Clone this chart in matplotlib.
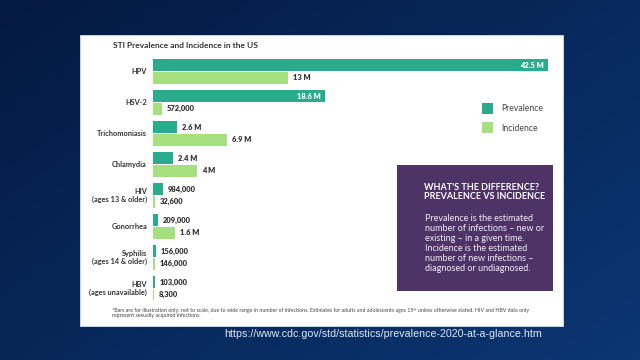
import numpy as np
import matplotlib
matplotlib.use("Agg")
import matplotlib.pyplot as plt
from matplotlib.patches import Rectangle
from matplotlib.colors import LinearSegmentedColormap

# ---- data ----
categories = ["HPV", "HSV-2", "Trichomoniasis", "Chlamydia",
              "HIV\n(ages 13 & older)", "Gonorrhea",
              "Syphilis\n(ages 14 & older)", "HBV\n(ages unavailable)"]
prev_labels = ["42.5 M", "18.6 M", "2.6 M", "2.4 M", "984,000", "209,000", "156,000", "103,000"]
inc_labels = ["13 M", "572,000", "6.9 M", "4 M", "32,600", "1.6 M", "146,000", "8,300"]
# illustrative bar lengths (bars not to scale in the original)
prev_len = [395, 172, 24, 20, 10, 5, 3, 2]
inc_len = [135, 9, 74, 44, 2, 22, 2, 1]

W, H = 640, 360
fig = plt.figure(figsize=(6.4, 3.6), dpi=100)

def fx(px):
    return px / W

def fy(py):
    return 1 - py / H

# background gradient
bg = fig.add_axes([0, 0, 1, 1])
bg.set_axis_off()
yy, xx = np.mgrid[0:1:200j, 0:1:360j]
grad = 0.55 * xx + 0.45 * yy
cmap = LinearSegmentedColormap.from_list("bgc", ["#041a42", "#0b3673"])
bg.imshow(grad, cmap=cmap, aspect="auto", extent=[0, 1, 0, 1], origin="upper")
bg.set_xlim(0, 1)
bg.set_ylim(0, 1)

# white panel
bg.add_patch(Rectangle((fx(80), fy(326)), fx(563) - fx(80), fy(35) - fy(326),
                       facecolor="white", edgecolor="#cfe0ee", linewidth=0.6))

# purple box
bg.add_patch(Rectangle((fx(397), fy(291)), fx(553) - fx(397), fy(165) - fy(291),
                       facecolor="#4d3366", edgecolor="none"))

FONT = "Lato"
teal = "#2aab8c"
green = "#a6e07e"
dark = "#333333"

fig.text(fx(113), fy(46), "STI Prevalence and Incidence in the US", fontsize=6.0,
         fontweight="bold", color=dark, family=FONT, va="center", ha="left")

# chart axes
ax = fig.add_axes([fx(153), fy(300), fx(560) - fx(153), fy(55) - fy(300)])
ax.set_xlim(0, 407)
ax.set_ylim(7.371, -0.532)
ax.set_axis_off()
ax.patch.set_alpha(0)

y = np.arange(len(categories))
h = 0.38
ax.barh(y - 0.2, prev_len, height=h, color=teal, linewidth=0)
ax.barh(y + 0.2, inc_len, height=h, color=green, linewidth=0)

for i in range(len(categories)):
    if prev_len[i] > 100:
        ax.text(prev_len[i] - 4, y[i] - 0.2, prev_labels[i], ha="right", va="center",
                fontsize=5.4, color="white", fontweight=800, family=FONT)
    else:
        ax.text(prev_len[i] + 5, y[i] - 0.2, prev_labels[i], ha="left", va="center",
                fontsize=5.4, color=dark, fontweight=800, family=FONT)
    ax.text(inc_len[i] + 5, y[i] + 0.2, inc_labels[i], ha="left", va="center",
            fontsize=5.4, color=dark, fontweight=800, family=FONT)
    ax.text(-6, y[i], categories[i], ha="right", va="center", fontsize=5.3,
            color=dark, fontweight="bold", family=FONT, linespacing=1.25)

# legend
bg.add_patch(Rectangle((fx(482), fy(114)), fx(493) - fx(482), fy(103) - fy(114),
                       facecolor=teal, edgecolor="none"))
bg.add_patch(Rectangle((fx(482), fy(133)), fx(493) - fx(482), fy(122) - fy(133),
                       facecolor=green, edgecolor="none"))
fig.text(fx(501), fy(108.5), "Prevalence", fontsize=6.2, color="#444444", family=FONT,
         va="center", ha="left")
fig.text(fx(501), fy(128), "Incidence", fontsize=6.2, color="#444444", family=FONT,
         va="center", ha="left")

# purple box text
fig.text(fx(424), fy(192), "WHAT'S THE DIFFERENCE?\nPREVALENCE VS INCIDENCE", fontsize=6.5,
         color="white", fontweight="bold", family=FONT, va="center", ha="left",
         linespacing=1.1)
fig.text(fx(425), fy(243.5),
         "Prevalence is the estimated\nnumber of infections \u2013 new or\n"
         "existing \u2013 in a given time.\nIncidence is the estimated\n"
         "number of new infections \u2013\ndiagnosed or undiagnosed.",
         fontsize=6.5, color="#f2eef6", family=FONT, va="center", ha="left",
         linespacing=1.16)

# footnote
fig.text(fx(112), fy(313),
         "*Bars are for illustration only; not to scale, due to wide range in number of infections. "
         "Estimates for adults and adolescents ages 15+ unless otherwise stated. HIV and HBV data only\n"
         "represent sexually acquired infections.",
         fontsize=3.8, color="#444444", family=FONT, va="center", ha="left", linespacing=1.2)

# url
fig.text(fx(224), fy(334), "https://www.cdc.gov/std/statistics/prevalence-2020-at-a-glance.htm",
         fontsize=7.7, color="#dde8f4", family="Liberation Sans", va="center", ha="left")

fig.savefig("out.png", dpi=100)
